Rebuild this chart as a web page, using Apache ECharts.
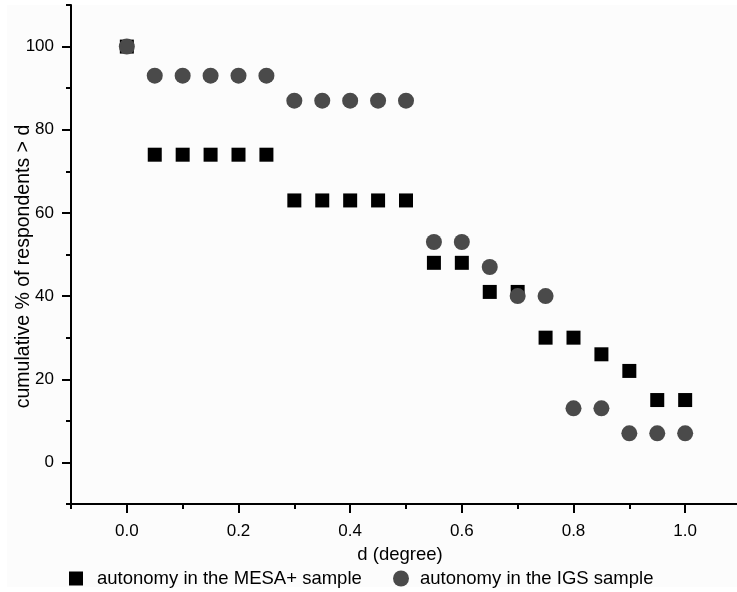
<!DOCTYPE html>
<html>
<head>
<meta charset="utf-8">
<script src="https://cdn.jsdelivr.net/npm/echarts@6/dist/echarts.min.js"></script>
<style>html,body{margin:0;padding:0;background:#fff;}#c{width:737px;height:592px;}</style>
</head>
<body>
<div id="c"></div>
<script>
const dValues = [0, 0.05, 0.1, 0.15, 0.2, 0.25, 0.3, 0.35, 0.4, 0.45, 0.5, 0.55, 0.6, 0.65, 0.7, 0.75, 0.8, 0.85, 0.9, 0.95, 1.0];
const mesaValues = [100, 74, 74, 74, 74, 74, 63, 63, 63, 63, 63, 48, 48, 41, 41, 30, 30, 26, 22, 15, 15];
const igsValues = [100, 93, 93, 93, 93, 93, 87, 87, 87, 87, 87, 53, 53, 47, 40, 40, 13, 13, 7, 7, 7];
const xMajorTicks = [0, 0.2, 0.4, 0.6, 0.8, 1.0];
const xMinorTicks = [-0.1, 0.1, 0.3, 0.5, 0.7, 0.9, 1.1];
const yMajorTicks = [0, 20, 40, 60, 80, 100];
const yMinorTicks = [-10, 10, 30, 50, 70, 90, 110];
const seriesNames = ['autonomy in the MESA+ sample', 'autonomy in the IGS sample'];

const FONT = '"Liberation Sans", Arial, sans-serif';
const chart = echarts.init(document.getElementById('c'), null, {renderer: 'canvas'});
const pair = (xs, ys) => xs.map((x, i) => [x, ys[i]]);

const axisCommon = {
  type: 'value', min: -0.1, max: 1.1, position: 'bottom', splitLine: {show: false}
};
const yCommon = {
  type: 'value', min: -10, max: 110, position: 'left', splitLine: {show: false}
};

chart.setOption({
  backgroundColor: '#ffffff',
  animation: false,
  graphic: [{
    type: 'rect', left: 7, top: 5, z: -100, silent: true,
    shape: {width: 730, height: 582}, style: {fill: '#fcfcfc'}
  }],
  grid: {left: 71, top: 5, width: 670, height: 499, containLabel: false, outerBoundsMode: 'none'},
  xAxis: [
    Object.assign({}, axisCommon, {
      name: 'd (degree)', nameLocation: 'middle', nameGap: 41, nameMoveOverlap: false,
      nameTextStyle: {fontFamily: FONT, fontSize: 18.5, color: '#000', padding: [0, 12, 0, 0]},
      axisLine: {show: true, onZero: false, lineStyle: {color: '#000', width: 2}},
      axisTick: {show: true, customValues: xMajorTicks, length: 9, inside: false, lineStyle: {color: '#000', width: 2}},
      axisLabel: {show: true, customValues: xMajorTicks, margin: 19, fontFamily: FONT, fontSize: 17, color: '#000',
        formatter: v => Number(v).toFixed(1)}
    }),
    Object.assign({}, axisCommon, {
      axisLine: {show: false, onZero: false},
      axisTick: {show: true, customValues: xMinorTicks, length: 5, lineStyle: {color: '#000', width: 2}},
      axisLabel: {show: false}
    })
  ],
  yAxis: [
    Object.assign({}, yCommon, {
      name: 'cumulative % of respondents > d', nameLocation: 'middle', nameGap: 37, nameMoveOverlap: false,
      nameTextStyle: {fontFamily: FONT, fontSize: 19.5, color: '#000', padding: [0, 24, 0, 0]},
      axisLine: {show: true, onZero: false, lineStyle: {color: '#000', width: 2}},
      axisTick: {show: true, customValues: yMajorTicks, length: 9, lineStyle: {color: '#000', width: 2}},
      axisLabel: {show: true, customValues: yMajorTicks, margin: 17, fontFamily: FONT, fontSize: 17, color: '#000'}
    }),
    Object.assign({}, yCommon, {
      axisLine: {show: false, onZero: false},
      axisTick: {show: true, customValues: yMinorTicks, length: 5, lineStyle: {color: '#000', width: 2}},
      axisLabel: {show: false}
    })
  ],
  legend: [
    {
      data: [{name: seriesNames[0], icon: 'rect'}],
      left: 64, top: 564, itemWidth: 14, itemHeight: 14,
      textStyle: {fontFamily: FONT, fontSize: 18.5, color: '#000', padding: [0, 0, 0, 9]}
    },
    {
      data: [{name: seriesNames[1], icon: 'circle'}],
      left: 388, top: 564, itemWidth: 16, itemHeight: 16,
      textStyle: {fontFamily: FONT, fontSize: 18.5, color: '#000', padding: [0, 0, 0, 6]}
    }
  ],
  series: [
    {
      name: seriesNames[0], type: 'scatter', xAxisIndex: 0, yAxisIndex: 0,
      symbol: 'rect', symbolSize: 14,
      itemStyle: {color: '#000000', opacity: 1},
      data: pair(dValues, mesaValues)
    },
    {
      name: seriesNames[1], type: 'scatter', xAxisIndex: 0, yAxisIndex: 0,
      symbol: 'circle', symbolSize: 16,
      itemStyle: {color: '#4a4a4a', opacity: 1},
      data: pair(dValues, igsValues)
    }
  ]
});
</script>
</body>
</html>
